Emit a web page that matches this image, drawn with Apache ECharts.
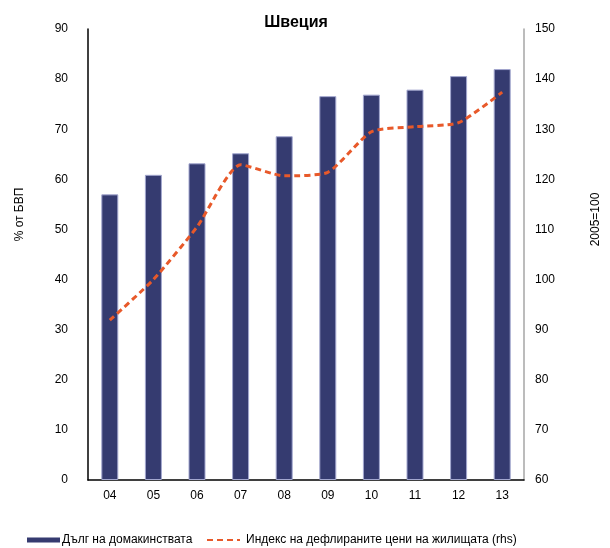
<!DOCTYPE html>
<html>
<head>
<meta charset="utf-8">
<script src="https://cdn.jsdelivr.net/npm/echarts@6/dist/echarts.min.js"></script>
<style>
  html, body { margin: 0; padding: 0; background: #fff; }
  #chart { width: 610px; height: 548px; }
</style>
</head>
<body>
<div id="chart"></div>
<script>
// Household debt (% of GDP, left axis) and deflated house price index (2005=100, right axis)
const years = ['04', '05', '06', '07', '08', '09', '10', '11', '12', '13'];
const householdDebt = [57.0, 60.9, 63.2, 65.2, 68.6, 76.6, 76.9, 77.9, 80.6, 82.0];
const housePriceIndex = [91.9, 100.0, 110.5, 122.9, 120.7, 121.4, 129.5, 130.5, 131.3, 137.4];
const leftTicks = { min: 0, max: 90, interval: 10 };
const rightTicks = { min: 60, max: 150, interval: 10 };

const debtName = 'Дълг на домакинствата';
const priceName = 'Индекс на дефлираните цени на жилищата (rhs)';
const font = 'Liberation Sans, Arial, sans-serif';
const navy = '#353b70';
const orange = '#e8592a';

const chart = echarts.init(document.getElementById('chart'), null, { renderer: 'canvas' });
chart.setOption({
  animation: false,
  backgroundColor: '#ffffff',
  title: {
    text: 'Швеция',
    left: 291, top: 10, textAlign: 'center',
    textStyle: { fontFamily: font, fontSize: 16, fontWeight: 'bold', color: '#000' }
  },
  grid: { left: 88, right: 86, top: 29, bottom: 68 },
  legend: [
    {
      data: [{ name: debtName, icon: 'rect', itemStyle: { color: navy, borderWidth: 0 } }],
      left: 27, top: 534, padding: 0,
      itemWidth: 33, itemHeight: 5,
      textStyle: { fontFamily: font, fontSize: 12, color: '#000', padding: [0, 0, 0, -3] }
    },
    {
      data: [{ name: priceName, itemStyle: { opacity: 0 } }],
      left: 206, top: 534, padding: 0,
      itemWidth: 33, itemHeight: 5,
      textStyle: { fontFamily: font, fontSize: 12, color: '#000', padding: [0, 0, 0, 1] }
    }
  ],
  xAxis: {
    type: 'category',
    data: years,
    axisLine: { lineStyle: { color: '#000', width: 1.5 } },
    axisTick: { show: false },
    axisLabel: { fontFamily: font, fontSize: 12, color: '#000', margin: 10 }
  },
  yAxis: [
    {
      type: 'value',
      min: leftTicks.min, max: leftTicks.max, interval: leftTicks.interval,
      name: '% от БВП',
      nameLocation: 'middle', nameGap: 62, nameRotate: 90,
      nameTextStyle: { fontFamily: font, fontSize: 12, color: '#000', padding: [0, 0, 0, 80] },
      axisLine: { show: true, lineStyle: { color: '#000', width: 1.5 } },
      axisTick: { show: false },
      splitLine: { show: false },
      axisLabel: { fontFamily: font, fontSize: 12, color: '#000', margin: 20 }
    },
    {
      type: 'value',
      min: rightTicks.min, max: rightTicks.max, interval: rightTicks.interval,
      name: '2005=100',
      nameLocation: 'middle', nameGap: 66, nameRotate: 90,
      nameTextStyle: { fontFamily: font, fontSize: 12, color: '#000', padding: [0, 0, 0, 70] },
      axisLine: { show: true, lineStyle: { color: '#a6a6a6', width: 1.5 } },
      axisTick: { show: false },
      splitLine: { show: false },
      axisLabel: { fontFamily: font, fontSize: 12, color: '#000', margin: 11 }
    }
  ],
  series: [
    {
      name: debtName,
      type: 'bar',
      data: householdDebt,
      yAxisIndex: 0,
      barWidth: 17,
      itemStyle: { color: navy, borderColor: '#a3a7cf', borderWidth: 1 }
    },
    {
      name: priceName,
      type: 'line',
      data: housePriceIndex,
      yAxisIndex: 1,
      smooth: 0.2,
      symbol: 'none',
      lineStyle: { color: orange, width: 3, type: [6, 4] },
      itemStyle: { color: orange },
      z: 5
    }
  ]
});
</script>
</body>
</html>
